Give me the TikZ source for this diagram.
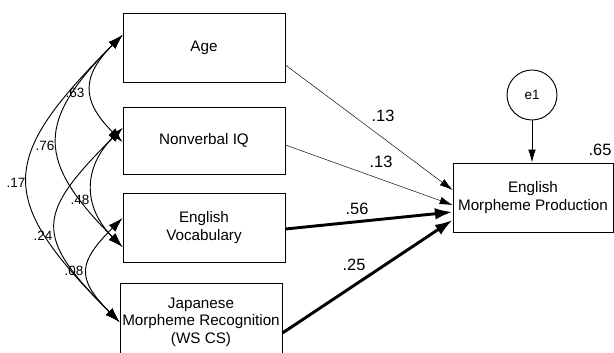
\documentclass[tikz,border=0pt]{standalone}
\usepackage{fontspec}
\setmainfont{Liberation Sans}
\usetikzlibrary{arrows.meta,calc}
\tikzset{
	var/.style={draw, line width=0.8pt, minimum width=4.86cm, minimum height=2.07cm, align=center, inner sep=0pt, font=\fontsize{13}{15}\selectfont},
	err/.style={draw, circle, line width=0.8pt, minimum size=1.5cm, inner sep=0pt, font=\fontsize{11.5}{13}\selectfont},
	cov/.style={line width=0.8pt, {Latex[length=12.5pt,width=8pt]}-{Latex[length=12.5pt,width=8pt]}},
	thin path/.style={line width=0.4pt, -{Latex[length=11pt,width=6.5pt]}},
	thick path/.style={line width=2.5pt, -{Latex[length=15pt,width=10pt]}},
	err path/.style={line width=0.8pt, -{Latex[length=11pt,width=6.5pt]}},
	coef/.style={font=\fontsize{14}{16}\selectfont, inner sep=0pt},
	corr/.style={font=\fontsize{11.5}{13}\selectfont, inner sep=0pt}
}

\begin{document}
\begin{tikzpicture}[x=0.3mm,y=0.3mm]
	\useasboundingbox (0,0) rectangle (614,352);
	\clip (0,0) rectangle (614,352);
	% observed variables
	\node[var] (age) at (204,304.5) {Age};
	\node[var, minimum height=2.01cm] (nviq) at (204,211.5) {Nonverbal IQ};
	\node[var] (voc) at (204,124.5) {English\\Vocabulary};
	\node[var, minimum height=2.34cm] (jmr) at (201,30) {Japanese\\Morpheme Recognition\\(WS CS)};
	\node[var, minimum width=4.8cm] (emp) at (533,154.5) {English\\Morpheme Production};
	\node[err] (e1) at (532,257) {e1};
	\node[coef] (r2) at (600,202) {.65};
	% correlations
	\node[corr] (r-age-nviq) at (75,259) {.63};
	\node[corr] (r-age-voc) at (45,206) {.76};
	\node[corr] (r-age-jmr) at (16,169) {.17};
	\node[corr] (r-nviq-voc) at (80,152) {.48};
	\node[corr] (r-nviq-jmr) at (43,116) {.24};
	\node[corr] (r-voc-jmr) at (74,81) {.08};
	\coordinate (age-a) at ($(age.west)+(0,12.5)$);
	\coordinate (nviq-a) at ($(nviq.west)+(0,12.5)$);
	\coordinate (nviq-b) at ($(nviq.west)+(0,-1.5)$);
	\coordinate (voc-a) at ($(voc.west)+(0,9.5)$);
	\coordinate (voc-b) at ($(voc.west)+(0,-19.5)$);
	\coordinate (jmr-a) at (jmr.west);
	\draw[cov] (age-a) to[out=225,in=135,looseness=1.4] (nviq-b);
	\draw[cov] (age-a) to[out=225,in=135,looseness=1.48] (voc-b);
	\draw[cov] (age-a) to[out=225,in=135,looseness=1.56] (jmr-a);
	\draw[cov] (nviq-a) to[out=225,in=135,looseness=1.21] (voc-b);
	\draw[cov] (nviq-a) to[out=225,in=135,looseness=1.61] (jmr-a);
	\draw[cov] (voc-a) to[out=225,in=135,looseness=1.53] (jmr-a);
	% paths
	\coordinate (age-o) at ($(age.east)+(0,-17.5)$);
	\coordinate (nviq-o) at ($(nviq.east)+(0,-4.5)$);
	\coordinate (voc-o) at ($(voc.east)+(0,-1.5)$);
	\coordinate (jmr-o) at ($(jmr.east)+(0,-11)$);
	\coordinate (emp-a) at ($(emp.west)+(0,7.5)$);
	\coordinate (emp-b) at ($(emp.west)+(0,-7.5)$);
	\coordinate (emp-c) at ($(emp.west)+(0,-14.5)$);
	\coordinate (emp-d) at ($(emp.west)+(0,-22.5)$);
	\draw[thin path] (age-o) -- (emp-a);
	\draw[thin path] (nviq-o) -- (emp-b);
	\draw[thick path] (voc-o) -- (emp-c);
	\draw[thick path] (jmr-o) -- (emp-d);
	\draw[err path] (e1) -- (e1 |- emp.north);
	\node[coef] (b-age) at (383,236) {.13};
	\node[coef] (b-nviq) at (381,190) {.13};
	\node[coef] (b-voc) at (357,143) {.56};
	\node[coef] (b-jmr) at (354,87) {.25};
\end{tikzpicture}
\end{document}
